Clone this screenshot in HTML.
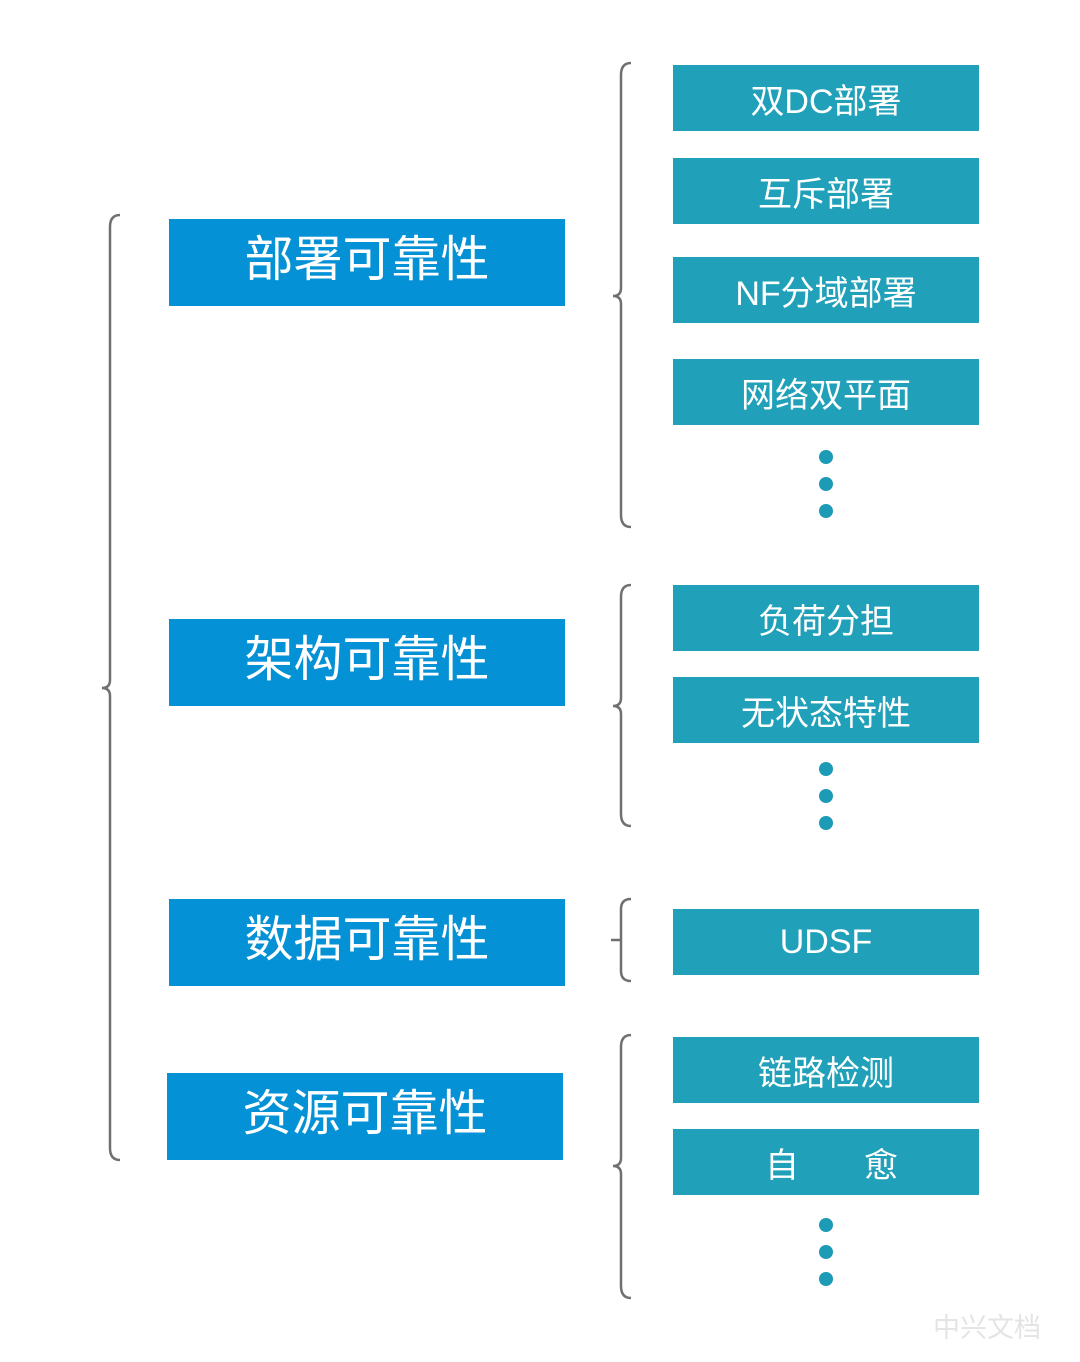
<!DOCTYPE html>
<html><head><meta charset="utf-8"><style>
body{margin:0;background:#fff;}
.wrap{position:relative;width:1080px;height:1362px;overflow:hidden;font-family:"Liberation Sans","Noto Sans CJK SC",sans-serif;}
.b{position:absolute;color:#fff;display:flex;align-items:center;justify-content:center;white-space:pre;box-sizing:border-box;}
.l{background:#0591d5;font-size:49px;width:396px;height:87px;left:169px;padding-bottom:14px;}
.r{background:#21a1b9;font-size:34px;width:306px;height:66px;left:673px;}
.d{position:absolute;width:14px;height:14px;border-radius:50%;background:#1d9ab5;left:819px;}
svg{position:absolute;left:0;top:0;}
</style></head><body><div class="wrap">
<svg width="1080" height="1362" fill="none" stroke="#707070" stroke-width="2.5">
<path d="M120,215 Q110,215 110,227 L110,680 Q110,688 102,688 Q110,688 110,696 L110,1148 Q110,1160 120,1160"/>
<path d="M631,63 Q621,63 621,75 L621,288 Q621,296 613,296 Q621,296 621,304 L621,515 Q621,527 631,527"/>
<path d="M631,585 Q621,585 621,597 L621,698 Q621,706 613,706 Q621,706 621,714 L621,814 Q621,826 631,826"/>
<path d="M631,899 Q621,899 621,909 L621,940 L611,940 M621,940 L621,971 Q621,981 631,981"/>
<path d="M631,1035 Q621,1035 621,1047 L621,1158 Q621,1166 613,1166 Q621,1166 621,1174 L621,1286 Q621,1298 631,1298"/>
</svg>
<div class="b l" style="top:219px">部署可靠性</div>
<div class="b l" style="top:619px">架构可靠性</div>
<div class="b l" style="top:899px">数据可靠性</div>
<div class="b l" style="top:1073px;left:167px">资源可靠性</div>
<div class="b r" style="top:65px">双DC部署</div>
<div class="b r" style="top:158px">互斥部署</div>
<div class="b r" style="top:257px">NF分域部署</div>
<div class="b r" style="top:359px">网络双平面</div>
<div class="b r" style="top:585px">负荷分担</div>
<div class="b r" style="top:677px">无状态特性</div>
<div class="b r" style="top:909px">UDSF</div>
<div class="b r" style="top:1037px">链路检测</div>
<div class="b r" style="top:1129px;justify-content:flex-start;"><span style="position:absolute;left:92px">自</span><span style="position:absolute;left:191px">愈</span></div>
<div class="d" style="top:450px"></div><div class="d" style="top:477px"></div><div class="d" style="top:504px"></div>
<div class="d" style="top:762px"></div><div class="d" style="top:789px"></div><div class="d" style="top:816px"></div>
<div class="d" style="top:1218px"></div><div class="d" style="top:1245px"></div><div class="d" style="top:1272px"></div>
<div style="position:absolute;left:933px;top:1306px;font-size:27px;color:#e4e4e4;">中兴文档</div>
</div></body></html>
